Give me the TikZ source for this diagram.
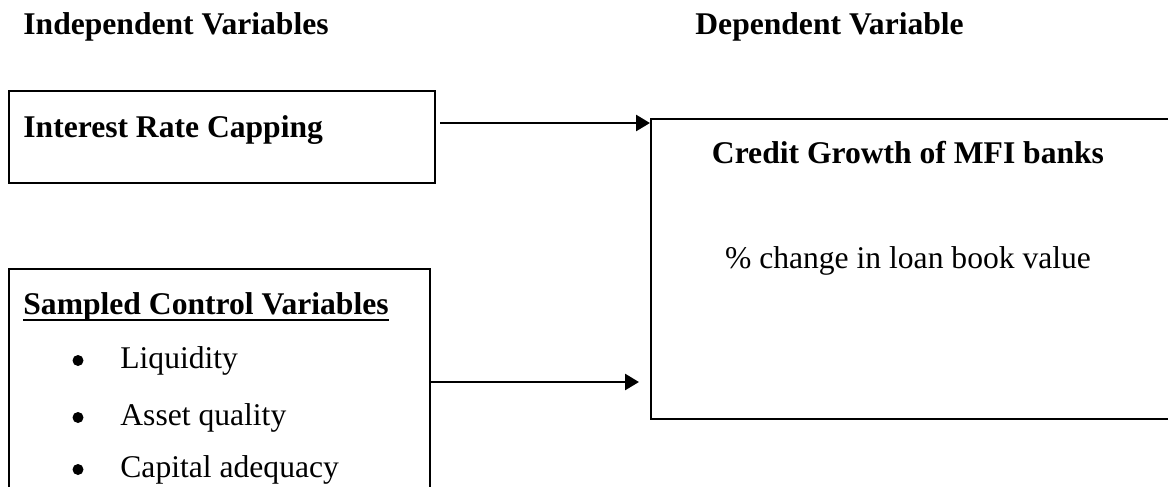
\documentclass[tikz,border=0pt]{standalone}
\usepackage{fontspec}
\setmainfont{Liberation Serif}
\usepackage{tikz}
\usetikzlibrary{arrows.meta}
\newcommand{\diagfont}{\fontsize{15.8}{19}\selectfont}
\tikzset{
  varbox/.style={draw, line width=1pt, rectangle, inner sep=0pt},
  link/.style={line width=1.3pt, -{Triangle[length=7pt,width=8pt]}},
  head/.style={inner sep=0pt, font=\diagfont\bfseries},
  plain/.style={inner sep=0pt},
  dot/.style={circle, fill, inner sep=0pt, minimum size=5.5pt},
}

\begin{document}
\begin{tikzpicture}[x=0.5pt, y=-0.5pt, font=\diagfont]
\useasboundingbox (0,0) rectangle (1168,487);
\clip (0,0) rectangle (1168,487);
% headings
\node[head, anchor=base west] (indep) at (23,34) {Independent Variables};
\node[head, anchor=base west] (dep) at (695,34) {Dependent Variable};
% boxes
\node[varbox, minimum width=213pt, minimum height=46pt] (rate) at (222,137) {};
\node[varbox, minimum width=210.5pt, minimum height=125.5pt] (control) at (219.5,394.5) {};
\node[varbox, minimum width=269.5pt, minimum height=150pt] (credit) at (920.5,269) {};
% box texts
\node[head, anchor=base west] (ratetext) at (23,137) {Interest Rate Capping};
\node[head, anchor=base west] (sampled) at (23,314) {Sampled Control Variables};
\draw[line width=1.2pt] ([yshift=-3pt]sampled.base west) -- ([yshift=-3pt]sampled.base east);
\foreach \y/\txt [count=\i] in {368/Liquidity, 425/Asset quality, 477/Capital adequacy} {
  \node[dot] (dot\i) at (78,\y-7.5) {};
  \node[plain, anchor=base west] (item\i) at (120,\y) {\txt};
}
\node[head, anchor=base] (growth) at (908,163) {Credit Growth of MFI banks};
\node[plain, anchor=base] (loan) at (908,268) {\% change in loan book value};
% arrows
\draw[link] ([xshift=2pt,yshift=7pt]rate.east) -- ([yshift=7pt]rate.east -| credit.west);
\draw[link] ([yshift=6.25pt]control.east) -- ([xshift=-5.5pt,yshift=6.25pt]control.east -| credit.west);
\end{tikzpicture}
\end{document}
